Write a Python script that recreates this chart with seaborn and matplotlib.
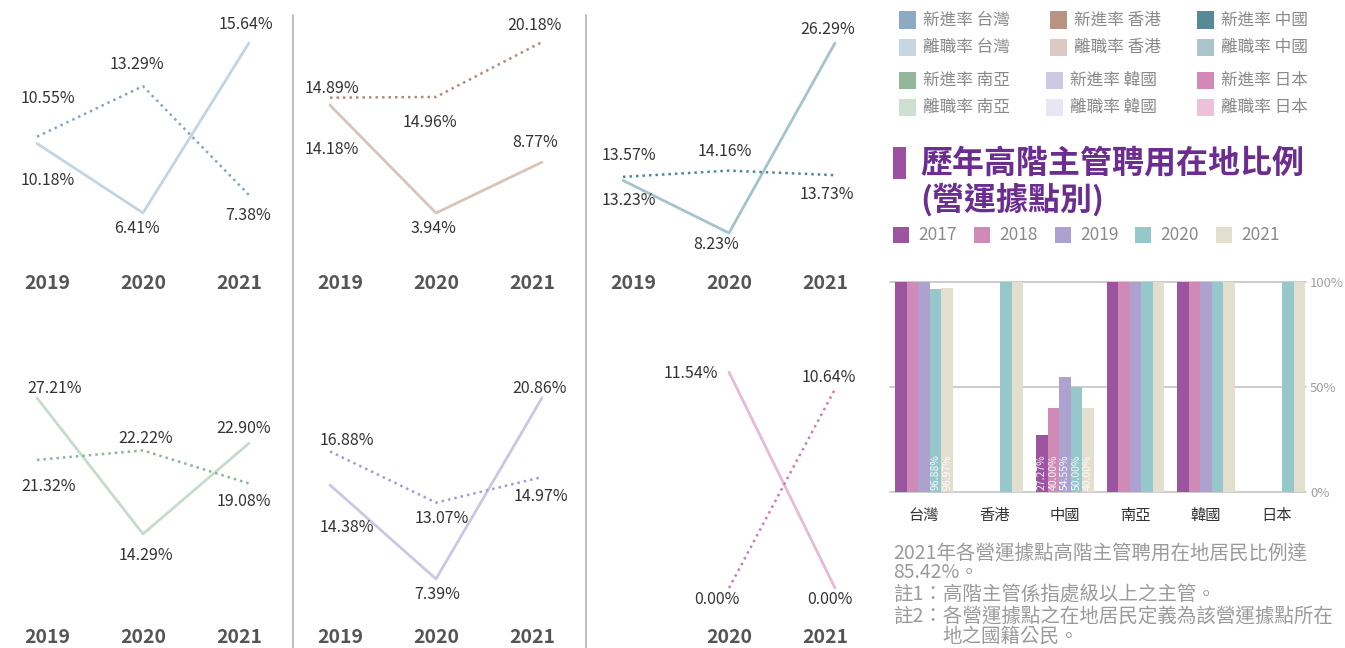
import numpy as np
import pandas as pd
import matplotlib
matplotlib.use("Agg")
import matplotlib.pyplot as plt
from matplotlib.patches import Rectangle
from matplotlib.lines import Line2D
import seaborn as sns

# ---- new-hire / turnover rates by operating site (%) ----
years = ["2019", "2020", "2021"]
hire_tw = [10.55, 13.29, 7.38]
quit_tw = [10.18, 6.41, 15.64]
hire_hk = [14.89, 14.96, 20.18]
quit_hk = [14.18, 3.94, 8.77]
hire_cn = [13.57, 14.16, 13.73]
quit_cn = [13.23, 8.23, 26.29]
hire_sa = [21.32, 22.22, 19.08]
quit_sa = [27.21, 14.29, 22.90]
hire_kr = [16.88, 13.07, 14.97]
quit_kr = [14.38, 7.39, 20.86]
hire_jp = [np.nan, 0.00, 10.64]
quit_jp = [np.nan, 11.54, 0.00]

# ---- senior managers hired locally (%) ----
sites = ["台灣", "香港", "中國", "南亞", "韓國", "日本"]
bar_years = ["2017", "2018", "2019", "2020", "2021"]
local_2017 = [100, 0, 27.27, 100, 100, 0]
local_2018 = [100, 0, 40.00, 100, 100, 0]
local_2019 = [100, 0, 54.55, 100, 100, 0]
local_2020 = [96.88, 100, 50.00, 100, 100, 100]
local_2021 = [96.97, 100, 40.00, 100, 100, 100]

legend_rows = [
    ["新進率 台灣", "新進率 香港", "新進率 中國"],
    ["離職率 台灣", "離職率 香港", "離職率 中國"],
    ["新進率 南亞", "新進率 韓國", "新進率 日本"],
    ["離職率 南亞", "離職率 韓國", "離職率 日本"],
]
title_lines = ["歷年高階主管聘用在地比例", "(營運據點別)"]
notes = [
    "2021年各營運據點高階主管聘用在地居民比例達",
    "85.42%。",
    "註1：高階主管係指處級以上之主管。",
    "註2：各營運據點之在地居民定義為該營運據點所在",
]
notes_tail = "地之國籍公民。"

# ---- styling ----
sns.set_theme(style="white")
plt.rcParams["font.family"] = ["Noto Sans CJK TC", "DejaVu Sans"]

site_colors = {
    "台灣": ("#87a5c2", "#c3d4e2", "#8ea9c4", "#c6d6e3"),
    "香港": ("#b38a7c", "#d9c4ba", "#b89384", "#dccac2"),
    "中國": ("#4f8794", "#a5c3ca", "#568a97", "#a9c4ca"),
    "南亞": ("#8db595", "#c6dcca", "#93b899", "#cde0d1"),
    "韓國": ("#a39cd3", "#cbc6e6", "#cdc8e4", "#e9e6f4"),
    "日本": ("#d27cb4", "#e6bad4", "#d389b5", "#ebc2d9"),
}
legend_colors = [
    [site_colors["台灣"][2], site_colors["香港"][2], site_colors["中國"][2]],
    [site_colors["台灣"][3], site_colors["香港"][3], site_colors["中國"][3]],
    [site_colors["南亞"][2], site_colors["韓國"][2], site_colors["日本"][2]],
    [site_colors["南亞"][3], site_colors["韓國"][3], site_colors["日本"][3]],
]
bar_palette = ["#9c54a0", "#d08ab6", "#ada2cf", "#95c7cb", "#e2dfcf"]

W, H = 1345, 648
fig = plt.figure(figsize=(W / 100, H / 100), dpi=100)


def px_axes(l, t, r, b):
    return fig.add_axes([l / W, 1 - b / H, (r - l) / W, (b - t) / H])


def fx(x):
    return x / W


def fy(y):
    return 1 - y / H


# ---- small multiples of rates ----
col_lefts = [0, 293, 586]
row_bounds = [(15, 268), (340, 622)]
panel_w = 290
first_pt, step = 37, 106
tick_squeeze = 0.905

# (hire, quit, site, col, row, pixel of 0 %, pixels per 1 %, label offsets)
panels = [
    (hire_tw, quit_tw, "台灣", 0, 0, 331.0, 18.42,
     [(11, -38), (-6, -22), (-1, 20)], [(11, 37), (-6, 16), (-3, -18)]),
    (hire_hk, quit_hk, "香港", 1, 0, 254.5, 10.53,
     [(2, -9), (-6, 26), (-7, -17)], [(2, 44), (-3, 15), (-7, -20)]),
    (hire_cn, quit_cn, "中國", 2, 0, 319.6, 10.52,
     [(6, -21), (-4, -19), (-8, 19)], [(6, 20), (-13, 11), (-7, -14)]),
    (hire_sa, quit_sa, "南亞", 0, 1, 684.4, 10.53,
     [(12, 27), (3, -12), (-5, 18)], [(18, -9), (3, 22), (-5, -15)]),
    (hire_kr, quit_kr, "韓國", 1, 1, 678.3, 13.44,
     [(17, -11), (6, 16), (-1, 19)], [(17, 42), (1, 16), (-2, -9)]),
    (hire_jp, quit_jp, "日本", 2, 1, 588.0, 18.7,
     [None, (-12, 11), (-6, -12)], [None, (-38, 1), (-5, 11)]),
]

for hire, quit, site, col, row, zero_px, scale, off_h, off_q in panels:
    left = col_lefts[col]
    top, bottom = row_bounds[row]
    ax = px_axes(left, top, left + panel_w, bottom)
    xs = np.arange(len(years))
    c_hire, c_quit = site_colors[site][0], site_colors[site][1]

    sns.lineplot(x=xs, y=quit, ax=ax, color=c_quit, linewidth=2.0)
    sns.lineplot(x=xs, y=hire, ax=ax, color=c_hire, linewidth=1.8,
                 linestyle=(0, (1, 1.6)))

    for series, offs in ((hire, off_h), (quit, off_q)):
        for i, v in enumerate(series):
            if np.isnan(v):
                continue
            dx, dy = offs[i]
            ax.annotate(f"{v:.2f}%", (xs[i], v), xytext=(dx, -dy),
                        textcoords="offset pixels", ha="center", va="center",
                        fontsize=11.5, color="#333333", annotation_clip=False)

    ax.set_xlim(-first_pt / step, (panel_w - first_pt) / step)
    ax.set_ylim((zero_px - bottom) / scale, (zero_px - top) / scale)
    shown = [i for i in range(len(years))
             if not (np.isnan(hire[i]) and np.isnan(quit[i]))]
    ax.set_xticks([1 + (i - 1) * tick_squeeze for i in shown],
                  [years[i] for i in shown])
    ax.set_yticks([])
    ax.tick_params(axis="x", length=0, pad=4, labelsize=14,
                   labelcolor="#555555")
    for lbl in ax.get_xticklabels():
        lbl.set_fontweight("bold")
    ax.set_xlabel("")
    ax.set_ylabel("")
    ax.patch.set_alpha(0)
    sns.despine(ax=ax, left=True, bottom=True)

# panel dividers
for xd in (293, 586):
    fig.add_artist(Line2D([fx(xd), fx(xd)], [fy(15), fy(648)],
                          color="#b3b3b3", linewidth=1.2))

# ---- legend of the rate panels ----
sq_x = [[899, 1050, 1197], [899, 1050, 1197], [899, 1046, 1197], [899, 1046, 1197]]
row_y = [20, 47.5, 80.5, 107.5]
for r, labels in enumerate(legend_rows):
    for c, lab in enumerate(labels):
        x0 = sq_x[r][c]
        fig.add_artist(Rectangle((fx(x0), fy(row_y[r] + 8.5)), 17 / W, 17 / H,
                                 facecolor=legend_colors[r][c], edgecolor="none",
                                 transform=fig.transFigure))
        fig.text(fx(x0 + 24), fy(row_y[r]), lab, ha="left", va="center",
                 fontsize=12, color="#8a8a8a")

# ---- title of the bar chart ----
fig.add_artist(Rectangle((fx(893), fy(179)), 13 / W, 32 / H,
                         facecolor="#9c509f", edgecolor="none",
                         transform=fig.transFigure))
fig.text(fx(920), fy(163), title_lines[0], ha="left", va="center",
         fontsize=23, fontweight="bold", color="#6b2d8f")
fig.text(fx(920), fy(200), title_lines[1], ha="left", va="center",
         fontsize=23, fontweight="bold", color="#6b2d8f")

# year legend
yr_x = [893, 974, 1055, 1135, 1216]
for x0, yr, c in zip(yr_x, bar_years, bar_palette):
    fig.add_artist(Rectangle((fx(x0), fy(243)), 16 / W, 16 / H,
                             facecolor=c, edgecolor="none",
                             transform=fig.transFigure))
    fig.text(fx(x0 + 25), fy(235), yr, ha="left", va="center",
             fontsize=12.5, color="#8a8a8a")

# ---- bar chart ----
bar_df = pd.DataFrame({
    "site": sites * len(bar_years),
    "year": np.repeat(bar_years, len(sites)),
    "value": local_2017 + local_2018 + local_2019 + local_2020 + local_2021,
})
axb = px_axes(890, 282, 1306, 492)
sns.barplot(data=bar_df, x="site", y="value", hue="year", order=sites,
            hue_order=bar_years, palette=bar_palette, width=0.82,
            saturation=1, linewidth=0, legend=False, ax=axb)
axb.set_xlim(-0.482, 5.418)
axb.set_ylim(0, 100)
for yv in (0, 50, 100):
    axb.axhline(yv, color="#c4c4c4", linewidth=1.2, zorder=0, clip_on=False)
axb.yaxis.tick_right()
axb.set_yticks([0, 50, 100], ["0%", "50%", "100%"])
axb.tick_params(axis="y", length=0, pad=3, labelsize=9.5, labelcolor="#a0a0a0")
axb.tick_params(axis="x", length=0, pad=11, labelsize=11, labelcolor="#333333")
axb.set_xlabel("")
axb.set_ylabel("")
axb.grid(False)
for s in axb.spines.values():
    s.set_visible(False)

for cont in axb.containers:
    for bar, v in zip(cont, cont.datavalues):
        if 0 < v < 100:
            axb.text(bar.get_x() + bar.get_width() / 2, 1, f"{v:.2f}%",
                     rotation=90, ha="center", va="bottom", fontsize=7.5,
                     color="white", alpha=0.9)

# ---- notes ----
note_y = [553, 573, 594, 616]
for yv, line in zip(note_y, notes):
    fig.text(fx(893), fy(yv), line, ha="left", va="center",
             fontsize=14, color="#9a9a9a")
fig.text(fx(942), fy(636), notes_tail, ha="left", va="center",
         fontsize=14, color="#9a9a9a")

fig.savefig("out.png", dpi=100, facecolor="white")
